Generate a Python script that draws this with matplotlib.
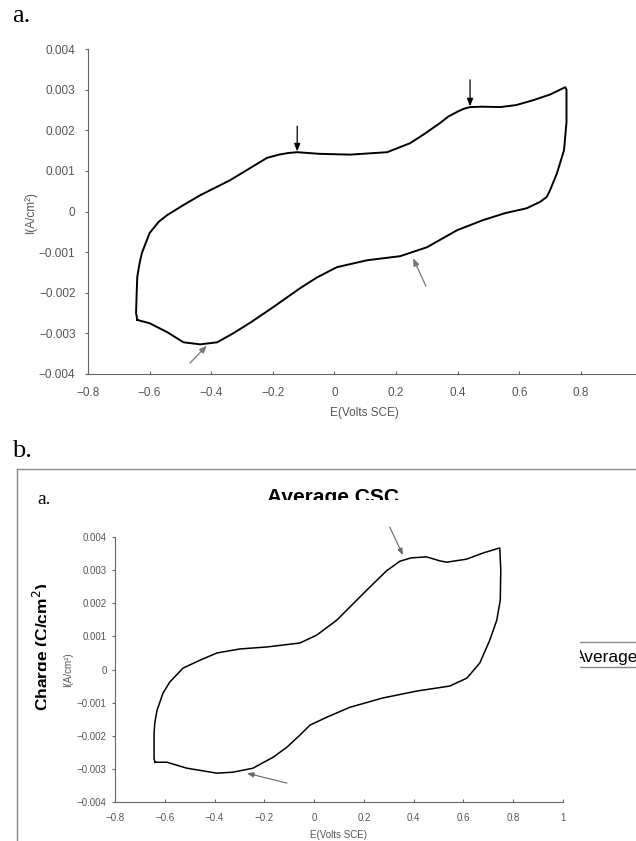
import matplotlib
matplotlib.use("Agg")
import matplotlib.pyplot as plt
from matplotlib.patches import Rectangle
from matplotlib.lines import Line2D

# ---- data ----
# panel a: cyclic voltammogram (E in V vs SCE, I in A/cm2)
E_a = [-0.640, -0.644, -0.642, -0.640, -0.632, -0.625, -0.600, -0.570, -0.543, -0.490,
       -0.436, -0.339, -0.219, -0.180, -0.150, -0.121, -0.050, 0.051, 0.171, 0.245,
       0.290, 0.343, 0.370, 0.400, 0.420, 0.440, 0.480, 0.538, 0.590, 0.645,
       0.700, 0.749, 0.753, 0.753, 0.745, 0.722, 0.700, 0.689, 0.668, 0.624,
       0.554, 0.483, 0.398, 0.300, 0.213, 0.106, 0.008, -0.056, -0.112, -0.200,
       -0.270, -0.329, -0.381, -0.436, -0.490, -0.543, -0.600, -0.640]
I_a = [-0.00267, -0.00250, -0.00200, -0.00160, -0.00125, -0.00102, -0.00053, -0.00025, -0.00009, 0.00016,
       0.00040, 0.00077, 0.00132, 0.00140, 0.00144, 0.00146, 0.00142, 0.00140, 0.00146, 0.00168,
       0.00190, 0.00218, 0.00234, 0.00246, 0.00253, 0.00257, 0.00258, 0.00257, 0.00262, 0.00274,
       0.00288, 0.00306, 0.00300, 0.00220, 0.00151, 0.00094, 0.00053, 0.00036, 0.00024, 0.00008,
       -0.00004, -0.00021, -0.00046, -0.00088, -0.00110, -0.00120, -0.00137, -0.00162, -0.00189, -0.00236,
       -0.00272, -0.00300, -0.00322, -0.00327, -0.00322, -0.00297, -0.00275, -0.00267]

# panel b: average CV
E_b = [-0.639, -0.643, -0.643, -0.640, -0.631, -0.607, -0.580, -0.527, -0.459, -0.390,
       -0.298, -0.190, -0.057, 0.011, 0.091, 0.212, 0.291, 0.345, 0.390, 0.452,
       0.505, 0.533, 0.612, 0.680, 0.746, 0.750, 0.748, 0.734, 0.706, 0.666,
       0.614, 0.545, 0.413, 0.276, 0.144, 0.051, -0.017, -0.057, -0.110, -0.165,
       -0.246, -0.326, -0.390, -0.511, -0.591, -0.639]
I_b = [-0.00280, -0.00270, -0.00192, -0.00160, -0.00123, -0.00071, -0.00038, 0.00004, 0.00028, 0.00050,
       0.00062, 0.00068, 0.00080, 0.00104, 0.00149, 0.00240, 0.00298, 0.00327, 0.00337, 0.00340,
       0.00328, 0.00324, 0.00333, 0.00352, 0.00367, 0.00300, 0.00210, 0.00149, 0.00089, 0.00020,
       -0.00026, -0.00050, -0.00065, -0.00086, -0.00114, -0.00144, -0.00168, -0.00198, -0.00235, -0.00265,
       -0.00298, -0.00310, -0.00313, -0.00298, -0.00280, -0.00280]

# arrows: (tail E, tail I, head E, head I, colour)
arrows_a = [(-0.121, 0.00210, -0.121, 0.00148, "black"),
            (0.440, 0.00324, 0.440, 0.00259, "black"),
            (0.297, -0.00184, 0.255, -0.00115, "#777777"),
            (-0.469, -0.00373, -0.414, -0.00330, "#777777")]
arrows_b = [(0.304, 0.00430, 0.357, 0.00345, "#666666"),
            (-0.109, -0.00343, -0.270, -0.00313, "#666666")]

yticks = [-0.004, -0.003, -0.002, -0.001, 0, 0.001, 0.002, 0.003, 0.004]
ytick_labels = ["\u22120.004", "\u22120.003", "\u22120.002", "\u22120.001", "0",
                "0.001", "0.002", "0.003", "0.004"]
xticks = [-0.8, -0.6, -0.4, -0.2, 0, 0.2, 0.4, 0.6, 0.8, 1.0]
xtick_labels = ["\u22120.8", "\u22120.6", "\u22120.4", "\u22120.2", "0", "0.2", "0.4", "0.6", "0.8", "1"]

plt.rcParams["font.family"] = ["Liberation Sans", "DejaVu Sans"]

W, H = 636, 841
fig = plt.figure(figsize=(W / 100, H / 100), dpi=100)


def fx(px):
    return px / W


def fy(py):
    return 1 - py / H


def style_axes(ax, fs, ypad, xpad, nx):
    for s in ["top", "right"]:
        ax.spines[s].set_visible(False)
    for s in ["left", "bottom"]:
        ax.spines[s].set_color("#666666")
        ax.spines[s].set_linewidth(0.8)
    ax.set_xlim(-0.8, 1.0)
    ax.set_ylim(-0.004, 0.004)
    ax.set_yticks(yticks)
    ax.set_yticklabels(ytick_labels)
    ax.set_xticks(xticks[:nx])
    ax.set_xticklabels(xtick_labels[:nx])
    ax.tick_params(axis="y", direction="out", length=2, width=0.8, color="#666666",
                   labelsize=fs, labelcolor="#555555", pad=ypad)
    ax.tick_params(axis="x", direction="in", length=2.5, width=0.8, color="#666666",
                   labelsize=fs, labelcolor="#555555", pad=xpad)


# ---------------- panel a ----------------
fig.text(fx(12), fy(22), "a.", family="Liberation Serif", fontsize=19, ha="left", va="baseline")

# the right end of this axis (E = 1) lies just past the picture edge
ax1 = fig.add_axes([fx(88), fy(374), fx(642.6 - 88), (374 - 49) / H])
style_axes(ax1, 8.5, 7, 9, len(xticks) - 1)
ax1.plot(E_a, I_a, color="black", lw=1.4, solid_joinstyle="round")
for e0, i0, e1, i1, c in arrows_a:
    ax1.annotate("", xy=(e1, i1), xytext=(e0, i0), annotation_clip=False,
                 arrowprops=dict(arrowstyle="-|>,head_length=0.45,head_width=0.18",
                                 color=c, lw=0.9, shrinkA=0, shrinkB=0))
fig.text(fx(30), fy(212), "I(A/cm\u00b2)", rotation=90, ha="center", va="center",
         fontsize=8.5, color="#555555")
fig.text(fx(364), fy(413), "E(Volts SCE)", ha="center", va="center", fontsize=8.5, color="#555555")

# ---------------- panel b ----------------
fig.text(fx(12), fy(457), "b.", family="Liberation Serif", fontsize=19, ha="left", va="baseline")

# frame of the pasted screenshot
fig.add_artist(Line2D([fx(17), fx(17)], [fy(469), fy(H + 2)], color="#8a8a8a", lw=1.0))
fig.add_artist(Line2D([fx(17), fx(W + 2)], [fy(469), fy(469)], color="#8a8a8a", lw=1.0))

# texts partly hidden behind the inner chart
fig.text(fx(267), fy(503), "Average CSC", fontsize=15, fontweight="bold", ha="left",
         va="baseline", zorder=1)
fig.text(fx(48.5), fy(711), "Charge (C/cm$^{2}$)", fontsize=12.5, fontweight="bold", rotation=90,
         rotation_mode="anchor", ha="left", va="baseline", zorder=1)
fig.add_artist(Line2D([fx(560), fx(W + 2)], [fy(642), fy(642)], color="#8a8a8a", lw=1.0, zorder=1))
fig.add_artist(Line2D([fx(560), fx(W + 2)], [fy(667), fy(667)], color="#8a8a8a", lw=1.0, zorder=1))
fig.text(fx(574), fy(662), "Average", fontsize=12.5, ha="left", va="baseline", zorder=1)

fig.add_artist(Rectangle((fx(45.5), 0), fx(580 - 45.5), fy(500), transform=fig.transFigure,
                         facecolor="white", edgecolor="none", zorder=2))

ax2 = fig.add_axes([fx(115), fy(802), fx(563 - 115), (802 - 537) / H])
ax2.set_zorder(3)
style_axes(ax2, 7, 4, 8, len(xticks))
ax2.plot(E_b, I_b, color="black", lw=1.1, solid_joinstyle="round")
for e0, i0, e1, i1, c in arrows_b:
    ax2.annotate("", xy=(e1, i1), xytext=(e0, i0), annotation_clip=False,
                 arrowprops=dict(arrowstyle="-|>,head_length=0.4,head_width=0.15",
                                 color=c, lw=0.8, shrinkA=0, shrinkB=0))
fig.text(fx(68), fy(670), "I(A/cm\u00b2)", rotation=90, ha="center", va="center",
         fontsize=7, color="#555555", zorder=4)
fig.text(fx(338), fy(835), "E(Volts SCE)", ha="center", va="center", fontsize=7,
         color="#555555", zorder=4)
fig.text(fx(37), fy(504), "a.", family="Liberation Serif", fontsize=14, ha="left",
         va="baseline", zorder=4)

fig.savefig("out.png", dpi=100)
